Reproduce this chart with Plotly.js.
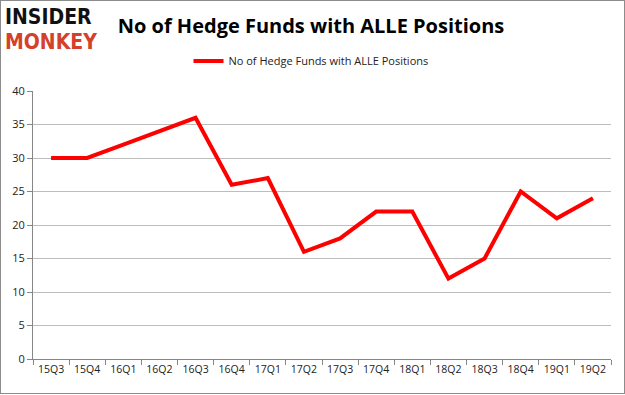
<!DOCTYPE html>
<html><head><meta charset="utf-8">
<script src="https://cdn.plot.ly/plotly-3.0.1.min.js"></script>
<style>
html,body{margin:0;padding:0;background:#fff;}
#chart{width:625px;height:395px;}
#frame{position:absolute;left:0;top:0;width:623px;height:392px;border:1px solid #8c8c8c;pointer-events:none;}
</style></head>
<body>
<div id="chart"></div>
<div id="frame"></div>
<script>
const categories = ["15Q3","15Q4","16Q1","16Q2","16Q3","16Q4","17Q1","17Q2","17Q3","17Q4","18Q1","18Q2","18Q3","18Q4","19Q1","19Q2"];
const hedgeFunds = [30,30,32,34,36,26,27,16,18,22,22,12,15,25,21,24];
const seriesName = "No of Hedge Funds with ALLE Positions";
const yTicks = [0,5,10,15,20,25,30,35,40];

const trace = {
  x: categories, y: hedgeFunds, type: "scatter", mode: "lines",
  name: seriesName, line: {color: "#ff0000", width: 4}
};
const layout = {
  width: 625, height: 395,
  margin: {l: 33, r: 14, t: 91, b: 36},
  paper_bgcolor: "#fff", plot_bgcolor: "#fff",
  showlegend: true,
  legend: {orientation: "h", xref: "container", x: 311/625, xanchor: "center", yref: "container", y: 1 - 61/395, yanchor: "middle",
    font: {family: "Open Sans, DejaVu Sans, sans-serif", size: 11, color: "#222"}},
  title: {text: "<b>No of Hedge Funds with ALLE Positions</b>", xref: "container", x: 311/625, xanchor: "center", yref: "container", y: 1 - 26/395, yanchor: "middle",
    font: {family: "Open Sans, DejaVu Sans, sans-serif", size: 20, color: "#000"}},
  xaxis: {type: "category", range: [-0.5, categories.length - 0.5], tickson: "boundaries", ticks: "outside", ticklen: 5, tickcolor: "#868686",
    showline: true, linecolor: "#868686", showgrid: false, zeroline: false,
    tickfont: {family: "Open Sans, DejaVu Sans, sans-serif", size: 10.5, color: "#222"}, fixedrange: true},
  yaxis: {range: [0, 40], tickvals: yTicks, ticks: "outside", ticklen: 5, tickcolor: "#868686",
    showline: true, linecolor: "#868686", showgrid: true, gridcolor: "#bdbdbd", zeroline: false,
    tickfont: {family: "Open Sans, DejaVu Sans, sans-serif", size: 11, color: "#222"}, fixedrange: true},
  annotations: [
    {text: "<b>INSIDER</b>", xref: "paper", yref: "paper", x: -30/578, y: 1 + (91-17)/268, xanchor: "left", yanchor: "middle",
      showarrow: false, font: {family: "Liberation Sans Narrow, DejaVu Sans Condensed, sans-serif", size: 21, color: "#111"}},
    {text: "<b>MONKEY</b>", xref: "paper", yref: "paper", x: -30/578, y: 1 + (91-42)/268, xanchor: "left", yanchor: "middle",
      showarrow: false, font: {family: "Liberation Sans Narrow, DejaVu Sans Condensed, sans-serif", size: 21, color: "#d5402b"}}
  ]
};
Plotly.newPlot("chart", [trace], layout, {displayModeBar: false, staticPlot: true});
</script>
</body></html>
